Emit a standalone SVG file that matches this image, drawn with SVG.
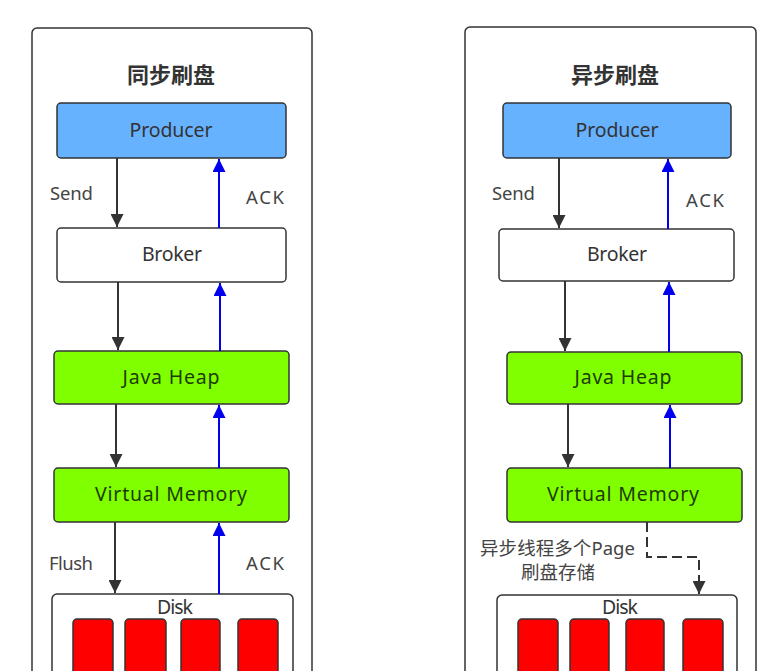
<svg xmlns="http://www.w3.org/2000/svg" width="775" height="671" viewBox="0 0 775 671">
<style>
.frame{fill:#fff;stroke:#333;stroke-width:1.5}
.box{stroke:#333;stroke-width:1.5}
.blue{fill:#66b2ff}
.white{fill:#fff}
.green{fill:#80ff00}
.red{fill:#ff0000;stroke:#333;stroke-width:1.5}
.t{font-family:"Noto Sans","Open Sans","Noto Sans CJK SC",sans-serif;font-size:19.5px;fill:#333;text-anchor:middle}
.tg{font-family:"Noto Sans","Open Sans","Noto Sans CJK SC",sans-serif;font-size:19.5px;fill:#1e3d00;text-anchor:middle}
.lbl{font-family:"Noto Sans","Open Sans","Noto Sans CJK SC",sans-serif;font-size:18.5px;fill:#444;text-anchor:middle}
.title{font-family:"Noto Sans CJK SC",sans-serif;font-size:22px;font-weight:bold;fill:#333;text-anchor:middle}
.down{stroke:#333;stroke-width:2;fill:none;marker-end:url(#ad)}
.up{stroke:#0000ee;stroke-width:2;fill:none;marker-end:url(#au)}
.dash{stroke:#333;stroke-width:2;fill:none;stroke-dasharray:10 5;marker-end:url(#ad)}
</style>
<defs>
<marker id="ad" viewBox="0 0 10 10" refX="10" refY="5" markerWidth="8" markerHeight="6.5" markerUnits="strokeWidth" orient="auto"><path d="M0,0 L10,5 L0,10 Z" fill="#333"/></marker>
<marker id="au" viewBox="0 0 10 10" refX="10" refY="5" markerWidth="8" markerHeight="6.5" markerUnits="strokeWidth" orient="auto"><path d="M0,0 L10,5 L0,10 Z" fill="#0000ee"/></marker>
</defs>
<rect width="775" height="671" fill="#fff"/>
<g id="left-frame">
<rect class="frame" x="32" y="28" width="280" height="660" rx="5"/>
<text class="title" x="171" y="83">同步刷盘</text>
</g>
<g id="right-frame">
<rect class="frame" x="465" y="27" width="291" height="660" rx="5"/>
<text class="title" x="615" y="83">异步刷盘</text>
</g>
<g id="L-producer"><rect class="box blue" x="57" y="103" width="229" height="55" rx="4"/><text class="t" x="171" y="137" textLength="83">Producer</text></g>
<g id="L-broker"><rect class="box white" x="57" y="228" width="229" height="54" rx="4"/><text class="t" x="172" y="261" textLength="60">Broker</text></g>
<g id="L-heap"><rect class="box green" x="54" y="351" width="235" height="53" rx="4"/><text class="tg" x="171" y="384" textLength="97">Java Heap</text></g>
<g id="L-vm"><rect class="box green" x="54" y="468" width="235" height="54" rx="4"/><text class="tg" x="171" y="501" textLength="152">Virtual Memory</text></g>
<g id="L-disk">
<rect class="box white" x="52" y="594" width="241" height="100" rx="5"/>
<text class="t" x="175" y="614" textLength="36">Disk</text>
<rect class="red" x="73" y="619" width="40" height="70" rx="4"/>
<rect class="red" x="125" y="619" width="41" height="70" rx="4"/>
<rect class="red" x="181" y="619" width="39" height="70" rx="4"/>
<rect class="red" x="238" y="619" width="40" height="70" rx="4"/>
</g>
<g id="R-producer"><rect class="box blue" x="503" y="103" width="228" height="55" rx="4"/><text class="t" x="617" y="137" textLength="83">Producer</text></g>
<g id="R-broker"><rect class="box white" x="499" y="229" width="235" height="52" rx="4"/><text class="t" x="617" y="261" textLength="60">Broker</text></g>
<g id="R-heap"><rect class="box green" x="507" y="352" width="235" height="52" rx="4"/><text class="tg" x="623" y="384" textLength="97">Java Heap</text></g>
<g id="R-vm"><rect class="box green" x="507" y="468" width="235" height="54" rx="4"/><text class="tg" x="623" y="501" textLength="152">Virtual Memory</text></g>
<g id="R-disk">
<rect class="box white" x="497" y="595" width="240" height="100" rx="5"/>
<text class="t" x="620" y="614" textLength="36">Disk</text>
<rect class="red" x="518" y="619" width="40" height="70" rx="4"/>
<rect class="red" x="570" y="619" width="39" height="70" rx="4"/>
<rect class="red" x="626" y="619" width="38" height="70" rx="4"/>
<rect class="red" x="683" y="619" width="40" height="70" rx="4"/>
</g>
<g id="connectors">
<line class="down" x1="117" y1="158" x2="117" y2="227"/>
<line class="up" x1="219" y1="228" x2="219" y2="159"/>
<line class="down" x1="118" y1="282" x2="118" y2="350"/>
<line class="up" x1="220" y1="351" x2="220" y2="283"/>
<line class="down" x1="116" y1="404" x2="116" y2="467"/>
<line class="up" x1="219" y1="468" x2="219" y2="405"/>
<line class="down" x1="115" y1="522" x2="115" y2="593"/>
<line class="up" x1="219" y1="594" x2="219" y2="523"/>
<line class="down" x1="559" y1="158" x2="559" y2="228"/>
<line class="up" x1="668" y1="229" x2="668" y2="159"/>
<line class="down" x1="565" y1="281" x2="565" y2="351"/>
<line class="up" x1="669" y1="352" x2="669" y2="282"/>
<line class="down" x1="568" y1="404" x2="568" y2="467"/>
<line class="up" x1="670" y1="468" x2="670" y2="405"/>
<path class="dash" d="M647,522 V557 H699 V594"/>
</g>
<g id="labels">
<text class="lbl" x="71.5" y="200" textLength="43">Send</text>
<text class="lbl" x="265" y="204" textLength="38">ACK</text>
<text class="lbl" x="71" y="570" textLength="44">Flush</text>
<text class="lbl" x="265" y="570" textLength="38">ACK</text>
<text class="lbl" x="513.5" y="200" textLength="43">Send</text>
<text class="lbl" x="705" y="207" textLength="38">ACK</text>
<text class="lbl" x="557.5" y="555" textLength="155">异步线程多个Page</text>
<text class="lbl" x="558" y="579">刷盘存储</text>
</g>
</svg>
